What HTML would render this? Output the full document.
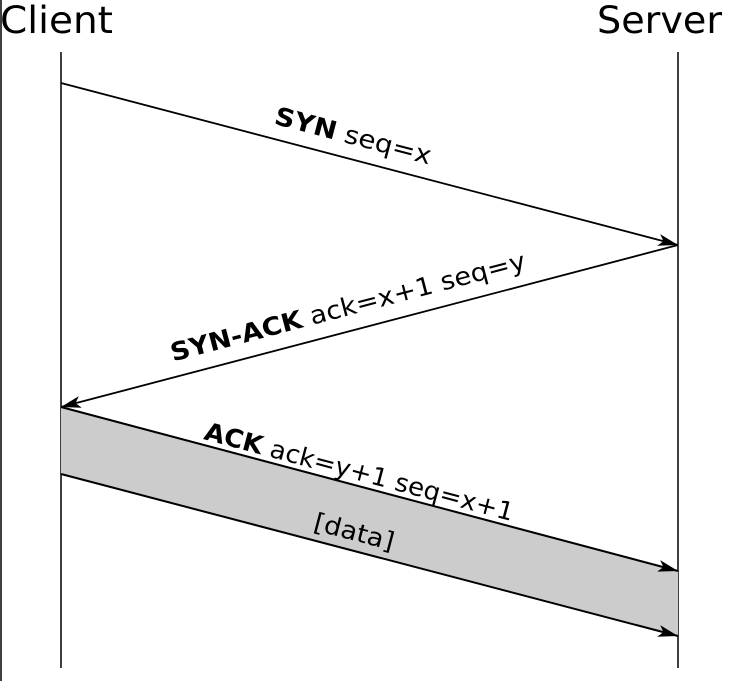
<!DOCTYPE html>
<html><head><meta charset="utf-8"><style>
html,body{margin:0;padding:0;background:#fff;}
svg{display:block;}
text{font-family:"DejaVu Sans","Liberation Sans",sans-serif;fill:#000;}
</style></head><body>
<svg width="748" height="681" viewBox="0 0 748 681" xmlns="http://www.w3.org/2000/svg">
<defs>
<marker id="a" markerWidth="20" markerHeight="12" refX="20" refY="6" orient="auto" markerUnits="userSpaceOnUse">
<path d="M0,0 L20,6 L0,12 L5,6 Z" fill="#000"/>
</marker>
</defs>
<line x1="1" y1="0" x2="1" y2="681" stroke="#000" stroke-width="1.5"/>
<text x="0" y="33" font-size="37" textLength="113" lengthAdjust="spacingAndGlyphs">Client</text>
<text x="597" y="33" font-size="37" textLength="125" lengthAdjust="spacingAndGlyphs">Server</text>
<line x1="61" y1="52" x2="61" y2="668" stroke="#000" stroke-width="1.5"/>
<line x1="678" y1="52" x2="678" y2="668" stroke="#000" stroke-width="1.5"/>
<polygon points="61,407 678,571 678,636 61,474" fill="#cccccc"/>
<line x1="61" y1="83" x2="678" y2="245" stroke="#000" stroke-width="1.8" marker-end="url(#a)"/>
<line x1="678" y1="245" x2="61" y2="407" stroke="#000" stroke-width="1.8" marker-end="url(#a)"/>
<line x1="61" y1="407" x2="678" y2="571" stroke="#000" stroke-width="2" marker-end="url(#a)"/>
<line x1="61" y1="474" x2="678" y2="636" stroke="#000" stroke-width="2" marker-end="url(#a)"/>
<text transform="translate(351,144) rotate(14.7)" text-anchor="middle" font-size="25" textLength="161" lengthAdjust="spacingAndGlyphs"><tspan font-weight="bold">SYN</tspan> seq=x</text>
<text transform="translate(350,315) rotate(-14.7)" text-anchor="middle" font-size="25" textLength="366" lengthAdjust="spacingAndGlyphs"><tspan font-weight="bold">SYN-ACK</tspan> ack=x+1 seq=y</text>
<text transform="translate(357,480) rotate(14.9)" text-anchor="middle" font-size="25" textLength="319" lengthAdjust="spacingAndGlyphs"><tspan font-weight="bold">ACK</tspan> ack=y+1 seq=x+1</text>
<text transform="translate(352,540) rotate(14.7)" text-anchor="middle" font-size="25" textLength="82" lengthAdjust="spacingAndGlyphs">[data]</text>
</svg>
</body></html>
